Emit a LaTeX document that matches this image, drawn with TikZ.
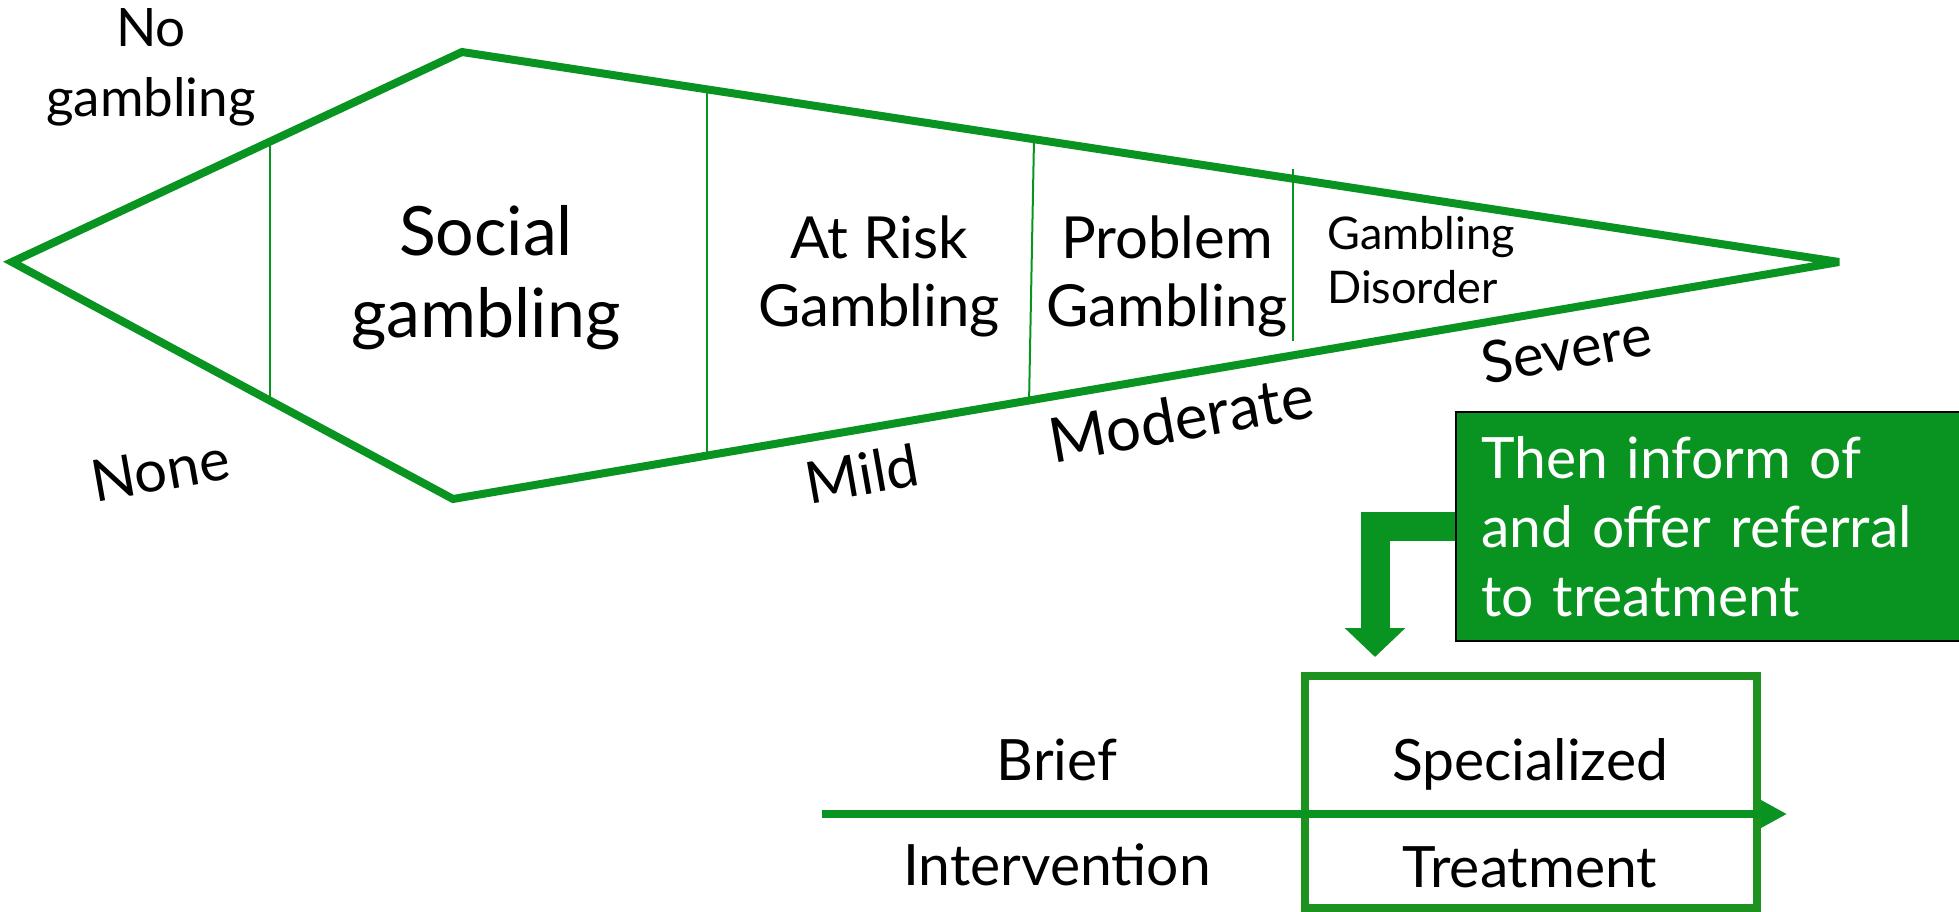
\documentclass[tikz,border=0pt]{standalone}
\usepackage{fontspec}
\setmainfont{Lato}
\usetikzlibrary{arrows.meta,calc}
\definecolor{gbase}{RGB}{9,148,33}
\definecolor{gframe}{RGB}{30,146,30}
\tikzset{
  outline/.style={draw=gbase, line width=8pt, line join=miter, miter limit=3},
  divider/.style={draw=gbase, line width=2pt},
  stagetext/.style={inner sep=0pt, anchor=base, align=center, text=black},
  sevlabel/.style={inner sep=0pt, rotate=10, font=\fontsize{58}{64}\selectfont},
  msgbox/.style={draw=black, line width=2pt, fill=gbase, text=white, inner xsep=17pt,
    anchor=north west, minimum width=530pt, minimum height=229pt,
    text width=480pt, align=left, font=\fontsize{57}{69}\selectfont},
  bentarrow/.style={draw=gbase, line width=29pt, line join=miter,
    -{Triangle[length=29pt,width=59pt]}},
  specbox/.style={draw=gframe, line width=8pt, minimum width=452pt, minimum height=232pt, inner sep=0pt},
  axisline/.style={draw=gbase, line width=8pt, -{Triangle[length=26pt,width=26pt]}},
  tiertext/.style={inner sep=0pt, anchor=base, font=\fontsize{57}{69}\selectfont}
}
\begin{document}
\begin{tikzpicture}[x=1pt,y=-1pt]
\useasboundingbox (0,0) rectangle (1959,912);
\clip (0,0) rectangle (1959,912);

% spectrum outline
\coordinate (tipL) at (12,262);
\coordinate (tl) at (462,52);
\coordinate (tipR) at (1839,262);
\coordinate (bl) at (453,499);
\draw[outline] (tipL) -- (tl) -- (tipR) -- (bl) -- cycle;

% stage dividers
\draw[divider] (270,142) -- (270,404);
\draw[divider] (707,90) -- (707,454);
\draw[divider] (1034,139) -- (1029,404);
\draw[divider] (1293,169) -- (1293,341);

% stage names (anchored at the baseline of their last line)
\node[stagetext, font=\fontsize{53}{70}\selectfont] (nogamb) at (151,117) {No\\gambling};
\node[stagetext, font=\fontsize{68}{82}\selectfont] (social) at (486,337) {Social\\gambling};
\node[stagetext, font=\fontsize{58}{68}\selectfont] (atrisk) at (879,326) {At Risk\\Gambling};
\node[stagetext, font=\fontsize{58}{68}\selectfont] (problem) at (1167,326) {Problem\\Gambling};
\node[stagetext, anchor=base west, align=left, font=\fontsize{45}{54}\selectfont] (disorder) at (1327,303) {Gambling\\Disorder};

% severity labels
\node[sevlabel] (none) at (160,470) {None};
\node[sevlabel] (mild) at (862,474) {Mild};
\node[sevlabel, font=\fontsize{62}{68}\selectfont] (moderate) at (1181,418) {Moderate};
\node[sevlabel] (severe) at (1566,349) {Severe};

% referral note and its arrow
\coordinate (drop) at (1375,657);
\node[msgbox] (msg) at (1455,411) {Then inform of\\and offer referral\\to treatment};
\draw[bentarrow] (msg.west) -| (drop);

% intervention axis
\node[specbox] (spec) at (1531,792) {};
\coordinate (axstart) at (822,814);
\coordinate (axend) at (1787,814);
\draw[axisline] (axstart) -- (axend);
\node[tiertext] (brief) at (1057,780) {Brief};
\node[tiertext] (interv) at (1057,885) {Intervention};
\node[tiertext] (special) at (1530,780) {Specialized};
\node[tiertext] (treat) at (1530,887) {Treatment};
\end{tikzpicture}
\end{document}
